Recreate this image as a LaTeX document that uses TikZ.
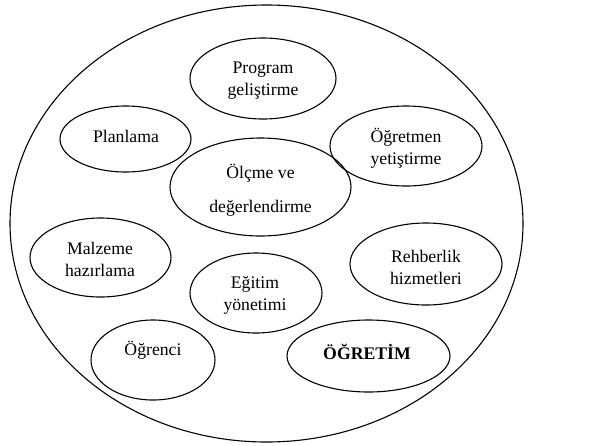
\documentclass[tikz,border=0pt]{standalone}
\usepackage{fontspec}
\setmainfont{Liberation Serif}
\usetikzlibrary{shapes.geometric}
\begin{document}
\begin{tikzpicture}[x=1pt,y=-1pt,
  oval/.style={draw, ellipse, line width=1.1pt, inner sep=0pt},
  lbl/.style={align=center, font=\fontsize{17.7}{22}\selectfont, inner sep=0pt}]
\useasboundingbox (0,0) rectangle (589,445);
\node[oval, minimum width=513pt, minimum height=437pt] (outer) at (266.5,223.5) {};
\node[oval, minimum width=146pt, minimum height=81pt] (prog) at (263,78.5) {};
\node[oval, minimum width=131pt, minimum height=66pt] (plan) at (125.5,139) {};
\node[oval, minimum width=152pt, minimum height=80pt] (ogrt) at (406,146) {};
\node[oval, minimum width=181pt, minimum height=98pt] (olcme) at (260.5,187) {};
\node[oval, minimum width=141pt, minimum height=79pt] (malz) at (100.5,257.5) {};
\node[oval, minimum width=152pt, minimum height=82pt] (rehb) at (426,264) {};
\node[oval, minimum width=132pt, minimum height=80pt] (egit) at (256,293) {};
\node[oval, minimum width=124pt, minimum height=80pt] (ogrc) at (153,360) {};
\node[oval, minimum width=163pt, minimum height=72pt] (ogretim) at (368.5,356) {};
\node[lbl] (tprog) at (263,81) {Program\\geliştirme};
\node[lbl] (tplan) at (126,136) {Planlama};
\node[lbl] (togrt) at (406,148.5) {Öğretmen\\yetiştirme};
\node[lbl, font=\fontsize{17.7}{34}\selectfont] (tolcme) at (260.5,190) {Ölçme ve\\değerlendirme};
\node[lbl] (tmalz) at (100,259) {Malzeme\\hazırlama};
\node[lbl] (trehb) at (426,267) {Rehberlik\\hizmetleri};
\node[lbl] (tegit) at (255,295.5) {Eğitim\\yönetimi};
\node[lbl] (togrc) at (153,350) {Öğrenci};
\node[lbl, font=\fontsize{17.7}{22}\selectfont\bfseries] (togretim) at (367,352) {ÖĞRETİM};
\end{tikzpicture}
\end{document}
